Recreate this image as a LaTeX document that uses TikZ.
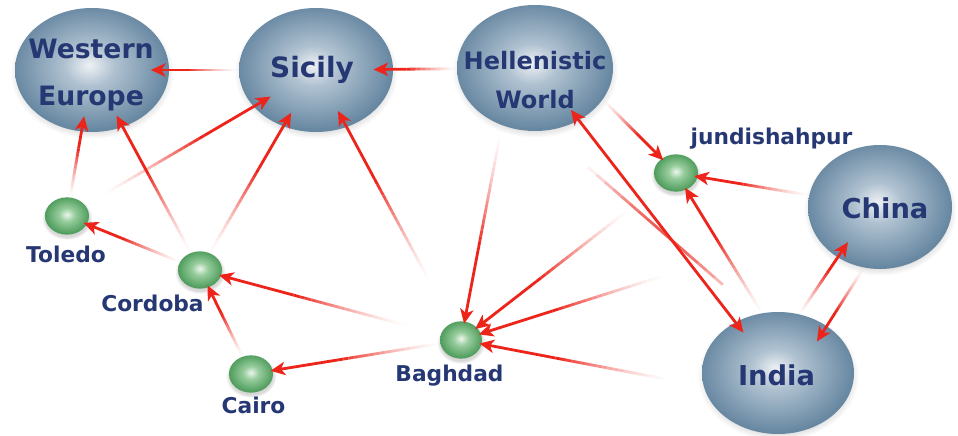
\documentclass[tikz,border=0pt]{standalone}
\usepackage{fontspec}
\newfontfamily\mapfont{DejaVu Sans}
\usetikzlibrary{arrows.meta,calc,shapes.geometric,shadows,fadings}
\tikzset{every picture/.style={line width=0.75pt}}

\definecolor{bubA}{RGB}{238,241,244}
\definecolor{bubB}{RGB}{176,194,209}
\definecolor{bubC}{RGB}{104,136,162}
\definecolor{grnA}{RGB}{236,246,236}
\definecolor{grnB}{RGB}{150,204,156}
\definecolor{grnC}{RGB}{78,156,92}
\definecolor{navy}{RGB}{38,56,115}
\definecolor{flowred}{RGB}{236,36,26}

\pgfdeclareradialshading{bluebubble}{\pgfpoint{-1bp}{2bp}}{color(0bp)=(bubA); color(8bp)=(bubB); color(25bp)=(bubC); color(50bp)=(bubC)}
\pgfdeclareradialshading{greenbubble}{\pgfpoint{0bp}{2bp}}{color(0bp)=(grnA); color(9bp)=(grnB); color(25bp)=(grnC); color(50bp)=(grnC)}

\tikzset{
  region/.style={ellipse, inner sep=0pt, shade, shading=bluebubble,
    circular drop shadow={shadow xshift=0pt, shadow yshift=-2pt, shadow scale=1.06, opacity=0.3}},
  city/.style={ellipse, inner sep=0pt, minimum width=33pt, minimum height=28pt, shade, shading=greenbubble,
    circular drop shadow={shadow xshift=0pt, shadow yshift=-1.5pt, shadow scale=1.15, opacity=0.3}},
  regionlabel/.style={text=navy, inner sep=0pt, align=center},
  citylabel/.style={text=navy, inner sep=0pt, font=\mapfont\bfseries\fontsize{16.3}{20}\selectfont},
  flowline/.style={draw=flowred, line width=2.1pt},
  flowhead/.style={-{Stealth[length=11pt,width=10pt,inset=3pt]}},
  dblhead/.style={{Stealth[length=11pt,width=10pt,inset=3pt]}-{Stealth[length=11pt,width=10pt,inset=3pt]}}
}

% arrow whose tail fades out towards its source
\newcommand{\fadeflow}[3]{%
  \path (#1) -- (#2) coordinate[pos=0] (ff-s) coordinate[pos=1] (ff-e);
  \coordinate (ff-h) at ($(ff-e)!-#3!(ff-s)$);
  \pgfpointdiff{\pgfpointanchor{ff-s}{center}}{\pgfpointanchor{ff-h}{center}}
  \pgfgetlastxy{\ffx}{\ffy}
  \pgfmathsetmacro{\fflen}{veclen(\ffx,\ffy)}
  \pgfmathsetmacro{\ffr}{min(1,145/\fflen)}
  \pgfmathsetmacro{\fft}{1-\ffr}
  \foreach \k in {1,...,20}{
    \pgfmathsetmacro{\ffa}{\fft+(\k-1)*0.03*\ffr}
    \pgfmathsetmacro{\ffb}{\fft+\k*0.03*\ffr}
    \pgfmathsetmacro{\ffo}{(\k/20)^1.6}
    \draw[flowline, draw opacity=\ffo] ($(ff-s)!\ffa!(ff-h)$) -- ($(ff-s)!\ffb!(ff-h)$);
  }
  \pgfmathsetmacro{\ffc}{\fft+0.6*\ffr}
  \draw[flowline, flowhead] ($(ff-s)!\ffc!(ff-h)$) -- (ff-h);
}

\begin{document}
\begin{tikzpicture}[x=0.75pt,y=0.75pt,yscale=-1,xscale=1]
\fill[white] (0,0) rectangle (958,436);
\useasboundingbox (0,0) rectangle (958,436);

%Shape: Ellipse
\node[region, minimum width=115.5pt, minimum height=93pt] (we) at (92,70) {};
%Shape: Ellipse
\node[region, minimum width=115.5pt, minimum height=93pt] (sic) at (316,70) {};
%Shape: Ellipse
\node[region, minimum width=117pt, minimum height=94.5pt] (hw) at (535,68) {};
%Shape: Ellipse
\node[region, minimum width=108pt, minimum height=93pt] (chi) at (880,207) {};
%Shape: Ellipse
\node[region, minimum width=114pt, minimum height=91.5pt] (ind) at (778,373) {};

%Shape: Small spheres
\node[city] (tol) at (67,216) {};
\node[city] (cor) at (200,270) {};
\node[city] (cai) at (251,374) {};
\node[city, minimum width=31.5pt] (bag) at (461,340) {};
\node[city] (jun) at (676,173) {};

%Straight Lines
\fadeflow{sic}{we}{14pt}
\fadeflow{hw}{sic}{15pt}
\fadeflow{tol}{we}{12pt}
\fadeflow{cor}{we}{10pt}
\fadeflow{tol}{sic}{15pt}
\fadeflow{cor}{sic}{12pt}
\fadeflow{bag}{sic}{14pt}
\fadeflow{bag}{cor}{2pt}
\fadeflow{cai}{cor}{2pt}
\fadeflow{cor}{tol}{3pt}
\fadeflow{bag}{cai}{2pt}
\fadeflow{hw.240}{bag}{2pt}
\fadeflow{hw.-25}{jun}{2pt}
\fadeflow{chi}{jun}{3pt}
\fadeflow{ind.105}{jun}{2pt}
\fadeflow{jun}{bag}{2pt}
\fadeflow{chi}{bag}{2pt}
\fadeflow{ind.190}{bag}{2pt}
\fadeflow{ind.70}{chi.230}{14pt}
\fadeflow{chi.255}{ind.44}{14pt}
\draw[flowline, dblhead, shorten <=-10pt, shorten >=-10pt] (hw.-50) -- (ind.130);
% faint line between the two
\foreach \k in {1,...,16}{
  \pgfmathsetmacro{\fla}{0.2+(\k-1)*0.04}
  \pgfmathsetmacro{\flb}{0.2+\k*0.04}
  \pgfmathsetmacro{\flo}{0.75*sin(160*(\k-0.5)/16)}
  \draw[flowline, draw opacity=\flo] ($(hw.-80)!\fla!(ind.110)$) -- ($(hw.-80)!\flb!(ind.110)$);
}

% Text Node
\node[regionlabel, font=\mapfont\bfseries\fontsize{20}{35}\selectfont] (we-t) at (91,75) {Western\\Europe};
% Text Node
\node[regionlabel, font=\mapfont\bfseries\fontsize{21}{25}\selectfont] (sic-t) at (312,70) {Sicily};
% Text Node
\node[regionlabel, font=\mapfont\bfseries\fontsize{18}{29}\selectfont] (hw-t) at (535,80) {Hellenistic\\World};
% Text Node
\node[regionlabel, font=\mapfont\bfseries\fontsize{20.5}{25}\selectfont] (chi-t) at (885,208) {China};
% Text Node
\node[regionlabel, font=\mapfont\bfseries\fontsize{20.5}{25}\selectfont] (ind-t) at (776.5,375) {India};
% Text Node
\node[citylabel] (tol-t) at (66,254) {Toledo};
% Text Node
\node[citylabel] (cor-t) at (152.5,303.5) {Cordoba};
% Text Node
\node[citylabel] (cai-t) at (253.5,405.5) {Cairo};
% Text Node
\node[citylabel] (bag-t) at (449.5,375.5) {Baghdad};
% Text Node
\node[citylabel] (jun-t) at (771.5,139) {jundishahpur};

\end{tikzpicture}
\end{document}
